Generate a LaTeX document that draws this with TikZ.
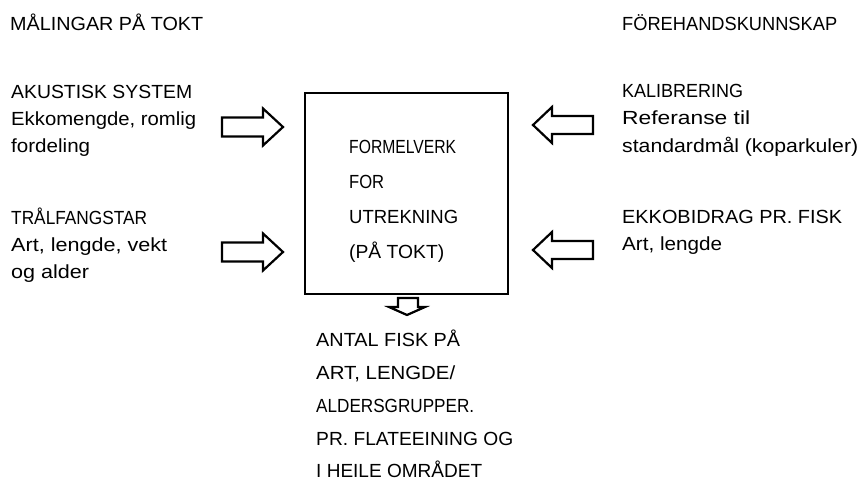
\documentclass[tikz,border=0pt]{standalone}
\usepackage{fontspec}
\setmainfont{Liberation Sans}
\newcommand\fitw[2]{\resizebox{#1pt}{\height}{#2}}
\begin{document}
\begin{tikzpicture}[x=1pt,y=-1pt,
  txt/.style={anchor=base west,inner sep=0pt,font=\fontsize{19}{19}\selectfont},
  frame/.style={draw,line width=2.6pt},
  blockarrow/.style={draw,line width=2.2pt,line join=miter,fill=white}]
\useasboundingbox (0,0) rectangle (863,483);
% titles
\node[txt] (t1) at (10,30) {\fitw{193}{MÅLINGAR PÅ TOKT}};
\node[txt] (t2) at (622,30) {\fitw{215}{FÖREHANDSKUNNSKAP}};
% left column
\node[txt] (a1) at (11,98) {\fitw{181}{AKUSTISK SYSTEM}};
\node[txt] (a2) at (11,125) {\fitw{185}{Ekkomengde, romlig}};
\node[txt] (a3) at (11,152) {\fitw{79}{fordeling}};
\node[txt] (b1) at (11,224) {\fitw{136}{TRÅLFANGSTAR}};
\node[txt] (b2) at (11,251) {\fitw{156}{Art, lengde, vekt}};
\node[txt] (b3) at (11,278) {\fitw{78}{og alder}};
% right column
\node[txt] (c1) at (622,97) {\fitw{121}{KALIBRERING}};
\node[txt] (c2) at (622,124) {\fitw{128}{Referanse til}};
\node[txt] (c3) at (622,152) {\fitw{236}{standardmål (koparkuler)}};
\node[txt] (d1) at (622,223) {\fitw{220}{EKKOBIDRAG PR. FISK}};
\node[txt] (d2) at (622,250) {\fitw{100}{Art, lengde}};
% central box
\node[frame,minimum width=203pt,minimum height=201pt,inner sep=0pt] (box) at (406.5,193.5) {};
\node[txt] (m1) at (349,153) {\fitw{107}{FORMELVERK}};
\node[txt] (m2) at (349,188) {\fitw{35}{FOR}};
\node[txt] (m3) at (349,223) {\fitw{109}{UTREKNING}};
\node[txt] (m4) at (349,258) {\fitw{95}{(PÅ TOKT)}};
% result text
\node[txt] (r1) at (316,346) {\fitw{144}{ANTAL FISK PÅ}};
\node[txt] (r2) at (316,379) {\fitw{139}{ART, LENGDE/}};
\node[txt] (r3) at (316,412) {\fitw{158}{ALDERSGRUPPER.}};
\node[txt] (r4) at (316,445) {\fitw{197}{PR. FLATEEINING OG}};
\node[txt] (r5) at (316,477) {\fitw{166}{I HEILE OMRÅDET}};
% left arrows (pointing right)
\foreach \cy in {127,252}{
  \draw[blockarrow] (222,\cy-9.5) -- (263,\cy-9.5) -- (263,\cy-18.5) -- (283,\cy)
    -- (263,\cy+18.5) -- (263,\cy+9.5) -- (222,\cy+9.5) -- cycle;
}
% right arrows (pointing left)
\foreach \cy in {125,250}{
  \draw[blockarrow] (593,\cy-9) -- (552,\cy-9) -- (552,\cy-18) -- (533,\cy)
    -- (552,\cy+18) -- (552,\cy+9) -- (593,\cy+9) -- cycle;
}
% bottom arrow (pointing down)
\draw[blockarrow] (398,298) -- (418,298) -- (418,307) -- (425,307) -- (407,315)
  -- (389,307) -- (398,307) -- cycle;
\end{tikzpicture}
\end{document}
